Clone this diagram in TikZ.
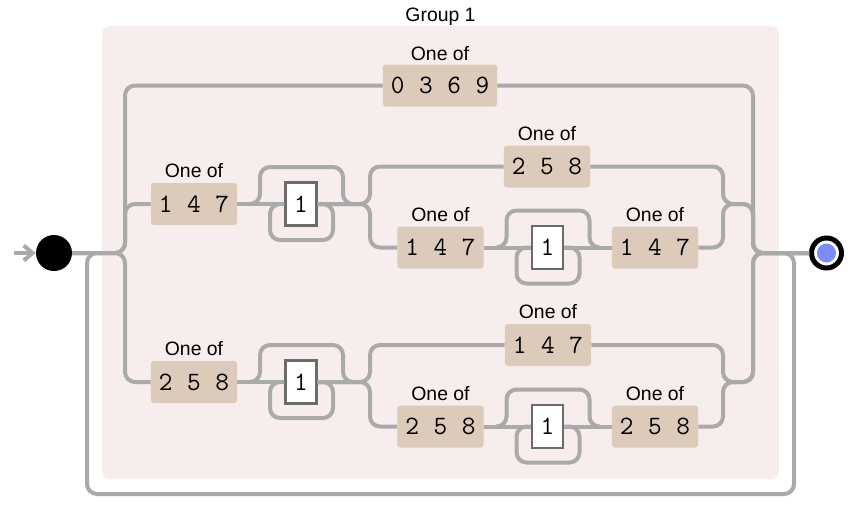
\documentclass[tikz,border=0pt]{standalone}
\usepackage{fontspec}
\newfontfamily\railsans{Liberation Sans}
\usetikzlibrary{positioning,arrows.meta}
\definecolor{railgray}{HTML}{AAAAAA}
\definecolor{settan}{HTML}{DCCBBB}
\definecolor{grouppink}{HTML}{F7EDED}
\definecolor{litedge}{HTML}{6B6B6B}
\definecolor{endblue}{HTML}{7B8CF6}
\newcommand\digitfont{\ttfamily\fontsize{26.5}{30}\selectfont\spaceskip=14.6pt\relax}

\begin{document}
\begin{tikzpicture}[x=1pt,y=-1pt,
  rail/.style={draw=railgray,line width=4pt,rounded corners=10pt},
  charset/.style={fill=settan,rounded corners=3pt,inner xsep=8pt,inner ysep=0pt,minimum height=42pt,font=\digitfont},
  literal/.style={fill=white,draw=litedge,line width=2.2pt,inner sep=0pt,minimum width=31pt,minimum height=43pt,font=\digitfont},
  oneof/.style={font=\railsans\fontsize{19.4}{22}\selectfont,inner sep=0pt}]
\useasboundingbox (0,0) rectangle (856,507);

% group background
\node[fill=grouppink,rounded corners=8pt,minimum width=677pt,minimum height=453pt] (group) at (440.5,252.5) {};
\node[oneof, above=4pt of group.north, anchor=base] (grouplbl) {Group 1};

% start and end
\node[circle,fill=black,minimum size=36pt,inner sep=0pt] (start) at (54,253) {};
\node[circle,draw=black,line width=5pt,fill=white,minimum size=30pt,inner sep=0pt] (endc) at (826.5,253) {};
\node[circle,fill=endblue,minimum size=19pt,inner sep=0pt] (enddot) at (endc) {};
\coordinate (entry) at (14,253);
\coordinate (loopL) at (105,253);
\coordinate (loopR) at (774,253);

% top alternative
\node[charset] (s0369) at (440,85.5) {0 3 6 9};
\node[oneof, above=4pt of s0369.north, anchor=base] (l0369) {One of};

% middle alternative
\node[charset] (m147) at (194,204) {1 4 7};
\node[oneof, above=5pt of m147.north, anchor=base] (lm147) {One of};
\node[literal] (mlit) at (301,204) {1};
\node[charset] (mt258) at (547,166.5) {2 5 8};
\node[oneof, above=5pt of mt258.north, anchor=base] (lmt258) {One of};
\node[charset] (mb147) at (440.5,247.5) {1 4 7};
\node[oneof, above=5pt of mb147.north, anchor=base] (lmb147) {One of};
\node[literal] (mblit) at (547.5,247.5) {1};
\node[charset] (mbe147) at (655,247.5) {1 4 7};
\node[oneof, above=5pt of mbe147.north, anchor=base] (lmbe147) {One of};

% bottom alternative
\node[charset] (b258) at (194,382) {2 5 8};
\node[oneof, above=5pt of b258.north, anchor=base] (lb258) {One of};
\node[literal] (blit) at (301,382) {1};
\node[charset] (bt147) at (548,345) {1 4 7};
\node[oneof, above=5pt of bt147.north, anchor=base] (lbt147) {One of};
\node[charset] (bb258) at (440.5,426.5) {2 5 8};
\node[oneof, above=5pt of bb258.north, anchor=base] (lbb258) {One of};
\node[literal] (bblit) at (547.5,426.5) {1};
\node[charset] (bbe258) at (655,426.5) {2 5 8};
\node[oneof, above=5pt of bbe258.north, anchor=base] (lbbe258) {One of};

% entry arrow and repeat loop
\draw[railgray,line width=4pt,-{Straight Barb[length=9pt,width=15pt]}] (entry) -- (start.west);
\draw[rail] (loopR) -- (794,253) -- (794,494) -- (87,494) -- (87,253) -- (loopL);

% split and merge of the three alternatives
\draw[rail] (start.east) -- (125,253) -- (125,85.5) -- (s0369.west);
\draw[rail] (start.east) -- (125,253) -- (125,204) -- (m147.west);
\draw[rail] (start.east) -- (125,253) -- (125,382) -- (b258.west);
\draw[rail] (s0369.east) -- (753,85.5) -- (753,253) -- (endc.west);
\draw[rail] (mt258.east) -- (723,166.5) -- (723,204) -- (753,204) -- (753,253) -- (endc.west);
\draw[rail] (mbe147.east) -- (723,247.5) -- (723,204) -- (753,204) -- (753,253) -- (endc.west);
\draw[rail] (bt147.east) -- (723,345) -- (723,382) -- (753,382) -- (753,253) -- (endc.west);
\draw[rail] (bbe258.east) -- (723,426.5) -- (723,382) -- (753,382) -- (753,253) -- (endc.west);

% inner rows
\draw[rail] (m147.east) -- (mlit.west);
\draw[rail] (mlit.east) -- (370,204) -- (370,166.5) -- (mt258.west);
\draw[rail] (mlit.east) -- (370,204) -- (370,247.5) -- (mb147.west);
\draw[rail] (mb147.east) -- (mblit.west);
\draw[rail] (mblit.east) -- (mbe147.west);
\draw[rail] (b258.east) -- (blit.west);
\draw[rail] (blit.east) -- (370,382) -- (370,345) -- (bt147.west);
\draw[rail] (blit.east) -- (370,382) -- (370,426.5) -- (bb258.west);
\draw[rail] (bb258.east) -- (bblit.west);
\draw[rail] (bblit.east) -- (bbe258.west);

% skip over and loop under each literal
\foreach \n in {mlit,mblit,blit,bblit}{
  \draw[rail] ([xshift=-51pt]\n.center) -- ([xshift=-41pt]\n.center) -- ([xshift=-41pt,yshift=37pt]\n.center)
    -- ([xshift=42pt,yshift=37pt]\n.center) -- ([xshift=42pt]\n.center) -- ([xshift=52pt]\n.center);
  \draw[rail] (\n.east) -- ([xshift=32pt]\n.center) -- ([xshift=32pt,yshift=-36pt]\n.center)
    -- ([xshift=-31pt,yshift=-36pt]\n.center) -- ([xshift=-31pt]\n.center) -- (\n.west);
}
\end{tikzpicture}
\end{document}
